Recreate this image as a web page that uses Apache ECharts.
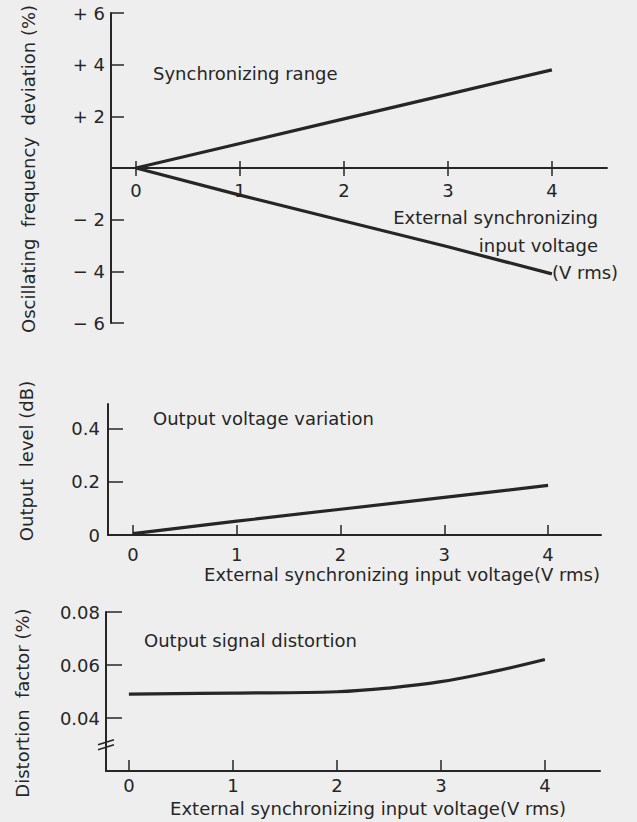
<!DOCTYPE html>
<html>
<head>
<meta charset="utf-8">
<script src="https://cdn.jsdelivr.net/npm/echarts@6/dist/echarts.min.js"></script>
<style>
  html, body { margin: 0; padding: 0; background: #eeeeee; }
  #chart { width: 637px; height: 822px; }
</style>
</head>
<body>
<div id="chart"></div>
<script>
// x axis (external sync input voltage, V rms)
const voltTicks = [0, 1, 2, 3, 4];

// panel 1: synchronizing range
const rangeVolt = [0, 1, 2, 3, 4];
const rangeUpper = [0, 0.95, 1.9, 2.85, 3.8];
const rangeLower = [0, -1.05, -2.05, -3.05, -4.1];
const rangeYTicks = [-6, -4, -2, 2, 4, 6];

// panel 2: output voltage variation
const levelVolt = [0, 1, 2, 3, 4];
const levelDb = [0.005, 0.052, 0.097, 0.142, 0.187];
const levelYTicks = [0, 0.2, 0.4];

// panel 3: output signal distortion
const distVolt = [0, 1, 2, 2.5, 3, 3.5, 4];
const distPct = [0.049, 0.0494, 0.0499, 0.0513, 0.0537, 0.0575, 0.0621];
const distYTicks = [0.04, 0.06, 0.08];

const INK = "#262626";
const FONT = "DejaVu Sans";

const pairs = (xs, ys) => xs.map((x, i) => [x, ys[i]]);

const chart = echarts.init(document.getElementById("chart"), null, { renderer: "svg" });

const axisLine = { show: true, onZero: false, lineStyle: { color: INK, width: 2 } };
const labelStyle = { color: INK, fontFamily: FONT, fontSize: 18, lineHeight: 18 };

function xAxisFor(grid, min, max, tickLen, inside, margin) {
  return {
    type: "value",
    gridIndex: grid,
    min: min,
    max: max,
    position: "bottom",
    axisLine: axisLine,
    splitLine: { show: false },
    axisTick: { show: true, inside: inside, length: tickLen, customValues: voltTicks, lineStyle: { color: INK, width: 1.5 } },
    axisLabel: Object.assign({ customValues: voltTicks, margin: margin }, labelStyle),
  };
}

function yAxisFor(grid, min, max, ticks, tickLen, margin, fmt) {
  return {
    type: "value",
    gridIndex: grid,
    min: min,
    max: max,
    axisLine: axisLine,
    splitLine: { show: false },
    axisTick: { show: true, inside: true, length: tickLen, customValues: ticks, lineStyle: { color: INK, width: 1.5 } },
    axisLabel: Object.assign({ customValues: ticks, margin: margin, formatter: fmt }, labelStyle),
  };
}

const lineSeries = (name, xi, yi, data, smooth) => ({
  name: name,
  type: "line",
  xAxisIndex: xi,
  yAxisIndex: yi,
  data: data,
  smooth: smooth,
  showSymbol: false,
  silent: true,
  lineStyle: { color: INK, width: 3.2 },
});

const txt = (x, y, text, align, rot) => ({
  type: "text",
  x: x,
  y: y,
  rotation: rot || 0,
  style: { text: text, fill: INK, font: "18px '" + FONT + "'", textAlign: align || "left", textVerticalAlign: "middle" },
});

// panel 1: the x axis runs through the middle (y = 0) and its ticks cross the line
const GRID0_H = 310;
const x0 = xAxisFor(0, -0.24, 4.53, 8, false, 13);
x0.offset = -GRID0_H / 2;
const x0b = xAxisFor(0, -0.24, 4.53, 7, true, 0);
x0b.offset = -GRID0_H / 2;
x0b.axisLine = { show: false, onZero: false };
x0b.axisLabel = { show: false };

const option = {
  backgroundColor: "#eeeeee",
  animation: false,
  grid: [
    { left: 111, top: 13, width: 496, height: GRID0_H },
    { left: 108, top: 404, width: 493, height: 131 },
    { left: 106, top: 612, width: 494, height: 159 },
  ],
  xAxis: [
    x0,
    xAxisFor(1, -0.24, 4.51, 10, true, 10),
    xAxisFor(2, -0.22, 4.53, 11, true, 5),
    x0b,
  ],
  yAxis: [
    yAxisFor(0, -6, 6, rangeYTicks, 13, 6, v => (v > 0 ? "+ " + v : "\u2212 " + Math.abs(v))),
    yAxisFor(1, 0, 0.494, levelYTicks, 15, 8, v => (v === 0 ? "0" : v.toFixed(1))),
    yAxisFor(2, 0.02, 0.08, distYTicks, 16, 6, v => v.toFixed(2)),
  ],
  series: [
    lineSeries("upper", 0, 0, pairs(rangeVolt, rangeUpper), false),
    lineSeries("lower", 0, 0, pairs(rangeVolt, rangeLower), false),
    lineSeries("level", 1, 1, pairs(levelVolt, levelDb), false),
    lineSeries("distortion", 2, 2, pairs(distVolt, distPct), 0.4),
  ],
};

chart.setOption(option);

// annotations, axis titles and the axis break mark on panel 3
const brk = chart.convertToPixel({ gridIndex: 2 }, [-0.22, 0.0295]);
const bx = brk[0], by = brk[1];

chart.setOption({
  graphic: [
    txt(28, 169, "Oscillating  frequency  deviation (%)", "center", Math.PI / 2),
    txt(153, 73, "Synchronizing range"),
    txt(598, 217, "External synchronizing", "right"),
    txt(598, 245, "input voltage", "right"),
    txt(552, 272, "(V rms)"),

    txt(26, 461, "Output  level (dB)", "center", Math.PI / 2),
    txt(153, 418, "Output voltage variation"),
    txt(600, 574, "External synchronizing input voltage(V rms)", "right"),

    txt(22, 703, "Distortion  factor (%)", "center", Math.PI / 2),
    txt(144, 640, "Output signal distortion"),
    txt(566, 808, "External synchronizing input voltage(V rms)", "right"),

    { type: "line", shape: { x1: bx - 8, y1: by - 1, x2: bx + 8, y2: by - 6 }, style: { stroke: INK, lineWidth: 1.5 } },
    { type: "line", shape: { x1: bx - 8, y1: by + 4, x2: bx + 8, y2: by - 1 }, style: { stroke: INK, lineWidth: 1.5 } },
  ],
});

window.addEventListener("resize", () => chart.resize());
</script>
</body>
</html>
